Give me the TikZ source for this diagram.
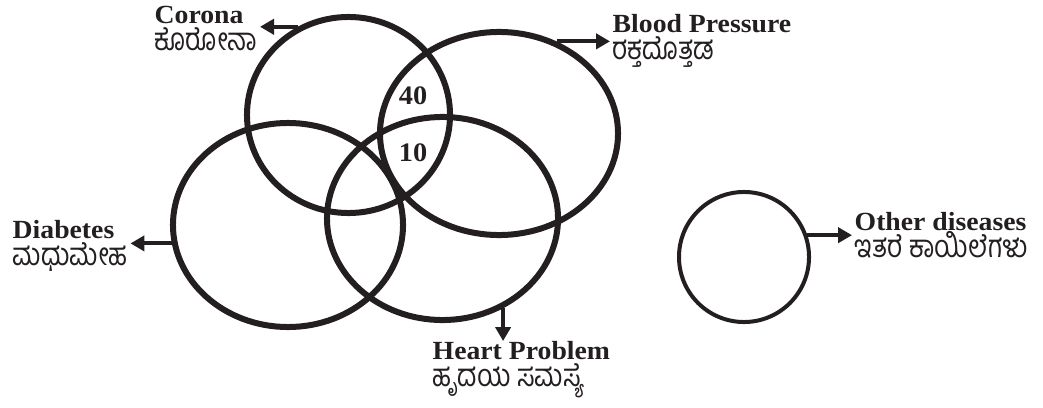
\documentclass[tikz,border=0pt]{standalone}
\usepackage{fontspec}
\setmainfont{Liberation Serif}[FakeStretch=1.06]
\newfontfamily\kanfont[Script=Kannada, Scale=1.2, FakeStretch=0.84]{Hind Mysuru}
\usetikzlibrary{arrows.meta,positioning,shapes.geometric}
\definecolor{ink}{RGB}{35,31,32}

\begin{document}
\setlength{\lineskiplimit}{-20pt}
\begin{tikzpicture}[x=0.025cm, y=-0.025cm, >=Triangle, line cap=butt, line join=round,
  disease/.style={draw=ink, ellipse, line width=0.15cm, inner sep=0pt},
  lbl/.style={align=left, inner xsep=0.06cm, inner ysep=0pt, text=ink,
    font=\fontsize{18.6}{19}\selectfont\bfseries},
  num/.style={text=ink, font=\fontsize{19}{16}\selectfont\bfseries},
  pointer/.style={draw=ink, line width=0.1cm, -{Triangle[length=0.35cm, width=0.38cm]}}]

\useasboundingbox (0,0) rectangle (1043,407);

% the four overlapping groups
\node[disease, minimum width=5.075cm, minimum height=4.9cm] (corona) at (348.5,115) {};
\node[disease, minimum width=5.95cm, minimum height=5.075cm] (bp) at (499,133.5) {};
\node[disease, minimum width=5.75cm, minimum height=5.1cm] (diab) at (288,225) {};
\node[disease, minimum width=5.775cm, minimum height=5.075cm] (heart) at (442.5,218.5) {};
% separate group
\node[disease, line width=0.1cm, minimum width=3.25cm, minimum height=3.25cm] (other) at (744,257) {};

\node[num] (forty) at (413,96) {40};
\node[num] (ten) at (413,153) {10};

% labels
\node[lbl, anchor=north west] (coronalbl) at (152,6) {Corona\\{\kanfont\mdseries ಕೊರೋನಾ}};
\node[lbl, anchor=north west] (bplbl) at (610,14) {Blood Pressure\\{\kanfont\mdseries ರಕ್ತದೊತ್ತಡ}};
\node[lbl, anchor=north west] (diablbl) at (10,220) {Diabetes\\{\kanfont\mdseries ಮಧುಮೇಹ}};
\node[lbl, anchor=north west] (heartlbl) at (430,341) {Heart Problem\\{\kanfont\mdseries ಹೃದಯ ಸಮಸ್ಯೆ}};
\node[lbl, anchor=north west] (otherlbl) at (852,212) {Other diseases\\{\kanfont\mdseries ಇತರೆ ಕಾಯಿಲೆಗಳು}};

\draw[pointer] (corona.120) -- (corona.120 -| coronalbl.east);
\draw[pointer] (bp.58) -- (bp.58 -| bplbl.west);
\draw[pointer] (diab.189) -- (diab.189 -| diablbl.east);
\draw[pointer] (heart.304) -- (heart.304 |- heartlbl.north);
\draw[pointer] (other.19) -- (other.19 -| otherlbl.west);

\end{tikzpicture}
\end{document}
